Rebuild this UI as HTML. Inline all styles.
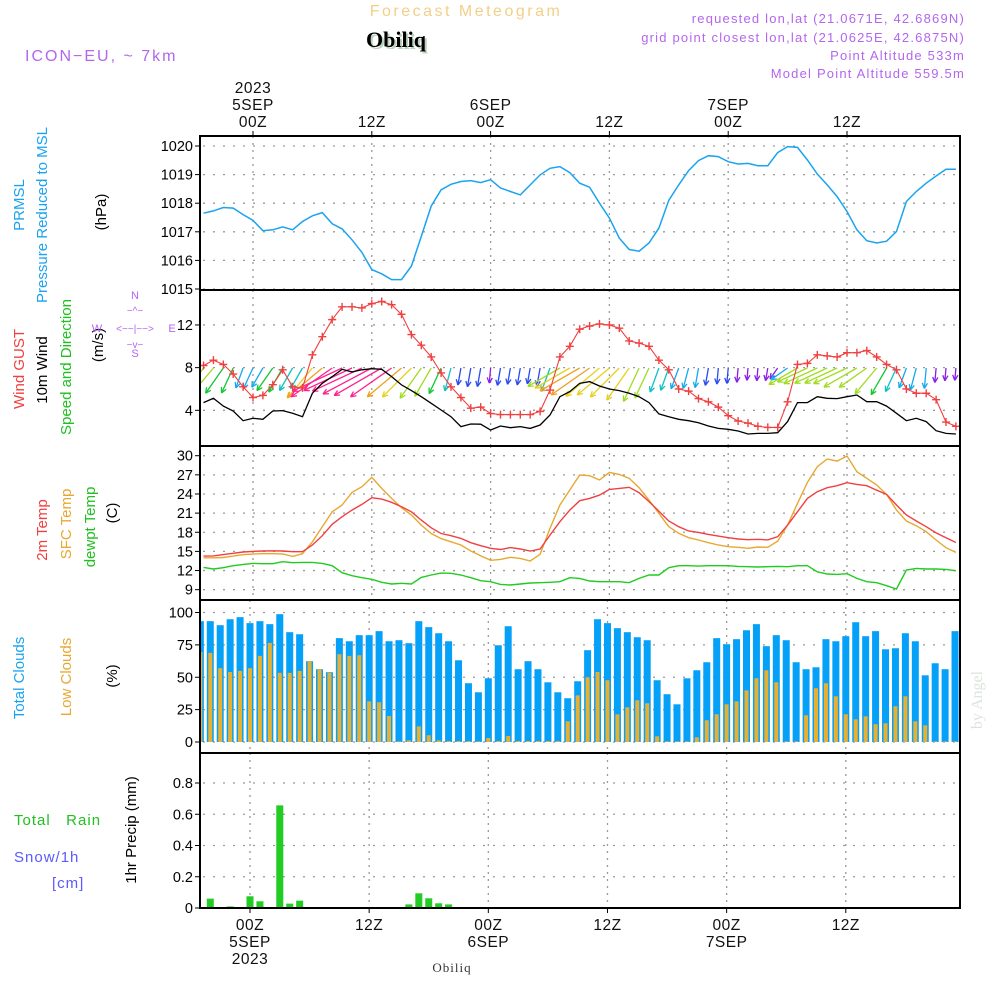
<!DOCTYPE html>
<html><head><meta charset="utf-8"><title>Meteogram Obiliq</title>
<style>
html,body{margin:0;padding:0;background:#fff;}
svg{display:block;font-family:"Liberation Sans",sans-serif;}
</style></head>
<body>
<svg id="chart" width="1000" height="1000" viewBox="0 0 1000 1000" xmlns="http://www.w3.org/2000/svg">
<rect x="0" y="0" width="1000" height="1000" fill="#fff"/>
<text x="466" y="16" font-size="16" fill="#f3cf88" text-anchor="middle" letter-spacing="2.5">Forecast Meteogram</text>
<text x="398" y="49" font-size="22" font-weight="bold" font-family="Liberation Serif, serif" fill="#bcd2bc" text-anchor="middle">Obiliq</text>
<text x="396" y="47" font-size="22" font-weight="bold" font-family="Liberation Serif, serif" fill="#000" text-anchor="middle">Obiliq</text>
<text x="25" y="61" font-size="16" fill="#b366ee" letter-spacing="2">ICON−EU, ~ 7km</text>
<g font-size="13" fill="#b366ee" text-anchor="end" letter-spacing="1.2">
<text x="965" y="23">requested lon,lat (21.0671E, 42.6869N)</text>
<text x="965" y="42">grid point closest lon,lat (21.0625E, 42.6875N)</text>
<text x="965" y="60">Point Altitude 533m</text>
<text x="965" y="78">Model Point Altitude 559.5m</text>
</g>
<g id="grid"></g>
<g id="marks"></g>
<g id="frames"></g>
<g id="labels"></g>
</svg>
<script>
// ---------- data (hourly, hour -5 .. 71 relative to 5SEP 00Z) ----------
const hours = []; for (let h = -5; h <= 71; h++) hours.push(h);
const pressure = [1017.65,1017.73,1017.85,1017.83,1017.6,1017.4,1017.04,1017.07,1017.17,1017.07,1017.36,1017.56,1017.67,1017.28,1017.1,1016.72,1016.28,1015.68,1015.53,1015.33,1015.33,1015.8,1016.84,1017.9,1018.47,1018.66,1018.76,1018.79,1018.72,1018.82,1018.53,1018.41,1018.29,1018.64,1018.99,1019.22,1019.28,1019.07,1018.7,1018.56,1018.0,1017.48,1016.78,1016.38,1016.32,1016.61,1017.13,1018.1,1018.64,1019.14,1019.49,1019.66,1019.63,1019.45,1019.37,1019.39,1019.31,1019.31,1019.77,1019.98,1019.95,1019.51,1019.02,1018.64,1018.23,1017.71,1017.07,1016.69,1016.61,1016.67,1017.01,1018.06,1018.41,1018.7,1018.95,1019.19,1019.19];
const gust = [8.2,8.7,8.3,7.4,6.2,5.2,5.4,6.4,7.8,6.2,6.1,9.2,10.9,12.5,13.7,13.7,13.6,14.0,14.2,13.9,13.0,11.1,10.1,9.0,7.5,6.2,5.2,4.2,4.3,3.7,3.6,3.6,3.6,3.6,3.9,5.9,9.0,10.0,11.6,11.9,12.1,12.0,11.7,10.5,10.3,10.0,8.7,7.8,6.0,5.8,5.1,4.8,4.3,3.5,3.0,2.8,2.5,2.4,2.4,4.8,8.3,8.4,9.2,9.1,9.0,9.4,9.4,9.6,9.0,8.3,7.8,6.0,5.6,5.6,5.0,2.9,2.5];
const windSpeed = [4.72,5.13,4.4,3.94,3.03,3.25,3.16,3.94,3.97,3.72,3.4,5.6,6.53,7.16,7.84,7.6,7.8,7.9,7.84,7.16,6.38,5.85,5.28,4.66,4.03,3.4,2.47,2.72,2.7,2.16,2.53,2.37,2.47,2.31,2.62,3.56,5.28,5.75,6.53,6.69,6.28,6.0,5.85,5.6,5.28,4.72,3.66,3.4,3.16,3.03,2.84,2.53,2.31,2.22,2.06,1.78,1.84,1.84,1.9,2.94,4.72,4.72,5.28,5.13,5.1,5.28,5.44,4.81,4.81,4.4,3.72,3.03,3.25,2.94,2.09,1.84,1.78];
const windDir = [35,40,35,25,20,25,30,35,30,30,30,40,50,55,65,65,65,62,60,55,50,45,35,30,25,15,10,10,10,5,10,10,10,10,10,20,60,60,60,55,50,50,45,35,25,25,20,20,20,15,10,10,5,5,5,5,5,10,35,55,60,65,65,65,65,65,60,55,40,30,25,20,15,5,5,5,5];
const temp2m = [14.27,14.3,14.5,14.7,14.9,15.0,15.06,15.1,15.06,14.95,14.95,16.0,17.46,19.24,20.44,21.48,22.37,23.42,23.2,22.7,22.0,21.2,19.9,18.7,17.8,17.46,17.04,16.36,15.9,15.48,15.3,15.6,15.37,15.06,15.37,17.56,19.66,21.48,22.95,23.3,23.83,24.72,24.88,25.04,24.2,22.8,21.3,19.76,18.87,18.2,17.98,17.67,17.4,17.15,16.94,16.83,16.9,16.8,17.3,19.13,21.2,23.3,24.36,24.98,25.3,25.77,25.5,25.3,24.6,23.94,22.27,20.7,19.76,18.87,17.9,17.15,16.4];
const tempSfc = [14.0,14.0,14.05,14.27,14.48,14.6,14.64,14.64,14.6,14.22,14.64,16.5,18.87,21.2,22.27,24.25,25.14,26.6,24.88,23.3,21.85,20.7,19.13,17.8,17.0,16.5,16.0,15.06,14.33,13.6,13.75,14.07,13.9,13.5,14.54,18.6,22.27,24.62,26.97,26.87,26.19,27.39,27.07,26.45,24.98,23.05,20.96,18.87,17.83,17.15,16.79,16.37,16.0,15.74,15.64,15.48,15.69,15.64,16.62,19.13,22.53,25.82,28.28,29.48,29.16,29.95,27.49,26.45,25.4,23.94,21.48,19.76,19.03,18.09,16.79,15.58,14.85];
const dewpt = [12.5,12.24,12.45,12.76,12.97,13.12,13.07,13.07,13.39,13.23,13.28,13.28,13.12,12.76,11.66,11.19,10.87,10.62,10.15,9.89,10.0,9.89,10.93,11.3,11.6,11.56,11.3,10.87,10.4,10.25,9.83,9.73,9.89,10.04,10.1,10.15,10.25,10.87,10.77,10.36,10.25,10.25,10.25,10.1,10.77,11.3,11.3,12.45,12.76,12.76,12.7,12.76,12.76,12.76,12.65,12.6,12.55,12.6,12.65,12.6,12.76,12.76,11.8,11.45,11.4,11.5,10.77,10.25,10.1,9.62,9.1,12.08,12.34,12.24,12.24,12.18,11.97];
const totalClouds = [93.3,93.3,90.2,94.8,96.4,91.8,93.3,91,98.7,84.8,83.2,62.4,56.2,53.9,80.2,77.8,82.5,82.5,85.6,77.8,78.6,76.3,93.3,88.7,84.0,77.8,63.1,45.4,38.4,49.2,74.7,89.4,56.2,62.4,56.2,46.1,38.4,33.8,46.9,70.9,94.8,91.8,87.9,84.8,80.9,78.6,47.7,36.9,29.1,49.2,55.4,61.6,80.2,75.5,79.4,86.3,91,74,82.5,78.6,61.6,56.2,57.7,79.4,77.8,81.7,92.5,81.7,85.6,71.6,72.4,84,77.8,51.5,60.8,56.2,85.6];
const lowClouds = [69.6,68.8,57,54.1,54.9,57,66.5,76.5,53.4,53.4,54.9,62.4,56.2,53.4,67.8,66.5,67,31.4,30.7,20.1,0.5,1.3,12.1,5.2,1.3,0.8,0.8,0.8,0.5,3.1,0.8,4.6,0.8,0.8,0.8,0.8,0.8,16,36,50,54.1,47.7,21.4,26.8,32.2,29.9,4.4,0.5,0.5,0.5,3.6,16.8,21.4,29.1,31.4,39.9,49.2,55.4,46.1,0.5,0.5,20.6,41.5,45.4,35.3,21.4,17.5,19.8,13.7,14.4,27.6,35.3,16,12.9,0.5,0.5,0.5];
const precip = [0,0.06,0,0.01,0.004,0.075,0.043,0,0.657,0.028,0.047,0,0,0,0,0,0,0,0,0,0,0.023,0.094,0.062,0.03,0.023,0,0,0,0,0,0,0,0,0,0,0,0,0,0,0,0,0,0,0,0,0,0,0,0,0,0,0,0,0,0,0,0,0,0,0,0,0,0,0,0,0,0,0,0,0,0,0,0,0,0,0];
const pTicks = [1015,1016,1017,1018,1019,1020];
const wTicks = [4,8,12];
const tTicks = [9,12,15,18,21,24,27,30];
const cTicks = [0,25,50,75,100];
const rTicks = [0,0.2,0.4,0.6,0.8];
const rTickLabels = ["0","0.2","0.4","0.6","0.8"];
const timeTicks = [0,12,24,36,48,60];
const topTimeLabels = [["2023","5SEP","00Z"],["12Z"],["6SEP","00Z"],["12Z"],["7SEP","00Z"],["12Z"]];
const botTimeLabels = [["00Z","5SEP","2023"],["12Z"],["00Z","6SEP"],["12Z"],["00Z","7SEP"],["12Z"]];

// ---------- axes ----------
const NS = "http://www.w3.org/2000/svg";
const L = 200, R = 960;
const xTop = h => 253 + 9.9 * h;
const xBot = h => 250 + 9.93 * h;
const yP = v => 146 + (1020 - v) * 28.6;
const yW = v => 453 - v * 10.67;
const yT = v => 455.7 + (30 - v) * 6.38;
const yC = v => 742 - v * 1.295;
const yR = v => 908 - v * 156.25;
const panels = [[136,290],[290,446],[446,600],[600,753],[753,908]];

function el(tag, attrs, parent) {
  const e = document.createElementNS(NS, tag);
  for (const k in attrs) e.setAttribute(k, attrs[k]);
  parent.appendChild(e);
  return e;
}
const grid = document.getElementById('grid');
const marks = document.getElementById('marks');
const frames = document.getElementById('frames');
const labels = document.getElementById('labels');

panels.forEach((p, i) => {
  const xf = i < 3 ? xTop : xBot;
  timeTicks.forEach(h => {
    const g = el('line', {x1: xf(h), x2: xf(h), y1: p[0], y2: p[1], stroke: '#999', 'stroke-width': 1.3, 'stroke-dasharray': '2,5'}, grid);
    
    
  });
});
function hgrid(ticks, yf, fmt, tickname) {
  ticks.forEach((t, i) => {
    const y = yf(t);
    const g = el('line', {x1: L + 3, x2: R, y1: y, y2: y, stroke: '#999', 'stroke-width': 1.3, 'stroke-dasharray': '2,8'}, grid);
    
    
    el('line', {x1: L - 5, x2: L, y1: y, y2: y, stroke: '#000', 'stroke-width': 1}, grid);
    const tx = el('text', {x: L - 7, y: y + 5, 'font-size': 14.5, 'text-anchor': 'end', fill: '#000'}, labels);
    tx.textContent = fmt ? fmt[i] : String(t);
    
    
  });
}
hgrid(pTicks, yP, null, 'pressure');
hgrid(wTicks, yW, null, 'wind');
hgrid(tTicks, yT, null, 'temp');
hgrid(cTicks, yC, null, 'cloud');
hgrid(rTicks, yR, rTickLabels, 'precip');

const defs = el('defs', {}, document.getElementById('chart'));
panels.forEach((p, i) => {
  const c = el('clipPath', {id: 'clip' + i}, defs);
  el('rect', {x: L + 1, y: p[0], width: R - L - 1, height: p[1] - p[0]}, c);
});

function line(values, xf, yf, color, name, clip, w) {
  const d = values.map((v, i) => (i ? 'L' : 'M') + xf(hours[i]).toFixed(1) + ',' + yf(v).toFixed(1)).join('');
  const p = el('path', {d: d, fill: 'none', stroke: color, 'stroke-width': w || 1.4, 'clip-path': 'url(#clip' + clip + ')'}, marks);
  
  
  return p;
}
line(pressure, xTop, yP, '#1aa3f0', 'pressure-line', 0, 1.5);

function speedColor(s) {
  if (s < 2.2) return '#8a1ee8';
  if (s < 2.8) return '#2a4af0';
  if (s < 3.3) return '#15a8f0';
  if (s < 3.8) return '#10c0c0';
  if (s < 4.5) return '#10c830';
  if (s < 5.5) return '#a0dc20';
  if (s < 6.3) return '#e6d020';
  if (s < 7.0) return '#f0a020';
  return '#ff2090';
}
const arrowGroup = el('g', {'clip-path': 'url(#clip1)'}, marks);
hours.forEach((h, i) => {
  const s = windSpeed[i], a = windDir[i] * Math.PI / 180, len = s * 7;
  const x0 = xTop(h), y0 = 368;
  const x1 = x0 - Math.sin(a) * len, y1 = y0 + Math.cos(a) * len;
  const g = el('g', {stroke: speedColor(s), 'stroke-width': 1.3, fill: 'none'}, arrowGroup);
  
  
  el('line', {x1: x0, y1: y0, x2: x1, y2: y1}, g);
  const back = Math.atan2(y0 - y1, x0 - x1);
  [0.45, -0.45].forEach(o => {
    el('line', {x1: x1, y1: y1, x2: x1 + 6 * Math.cos(back + o), y2: y1 + 6 * Math.sin(back + o)}, g);
  });
});
line(windSpeed, xTop, yW, '#000', 'wind-speed-line', 1, 1.3);
line(gust, xTop, yW, '#f04040', 'wind-gust-line', 1, 1.1);
hours.forEach((h, i) => {
  const x = xTop(h), y = yW(gust[i]);
  const g = el('path', {d: `M${x-4},${y}H${x+4}M${x},${y-4}V${y+4}`, stroke: '#f04040', 'stroke-width': 1.4, 'clip-path': 'url(#clip1)'}, marks);
  
  
});
line(tempSfc, xTop, yT, '#e8a830', 'sfc-temp-line', 2, 1.4);
line(temp2m, xTop, yT, '#f04040', '2m-temp-line', 2, 1.4);
line(dewpt, xTop, yT, '#20cc20', 'dewpoint-line', 2, 1.4);

hours.forEach((h, i) => {
  const x = xBot(h);
  const b = el('rect', {x: x - 3.5, y: yC(totalClouds[i]), width: 7, height: yC(0) - yC(totalClouds[i]), fill: '#05a0f8', 'clip-path': 'url(#clip3)'}, marks);
  
  
  const o = el('rect', {x: x - 2, y: yC(lowClouds[i]), width: 4, height: yC(0) - yC(lowClouds[i]), fill: '#e8b030', 'clip-path': 'url(#clip3)'}, marks);
  
  
});
hours.forEach((h, i) => {
  if (precip[i] <= 0) return;
  const x = xBot(h);
  const b = el('rect', {x: x - 3.5, y: yR(precip[i]), width: 7, height: yR(0) - yR(precip[i]), fill: '#22cc22', 'clip-path': 'url(#clip4)'}, marks);
  
  
});
el('line', {x1: L, x2: R, y1: 907.5, y2: 907.5, stroke: '#000', 'stroke-width': 1, 'stroke-dasharray': '4,2'}, marks);

panels.forEach((p, i) => {
  const f = el('rect', {x: L, y: p[0], width: R - L, height: p[1] - p[0], fill: 'none', stroke: '#000', 'stroke-width': 2}, frames);
  
  
});

timeTicks.forEach((h, i) => {
  const x = xTop(h);
  el('line', {x1: x, x2: x, y1: 131, y2: 136, stroke: '#000'}, frames);
  const lines = topTimeLabels[i];
  lines.forEach((s, j) => {
    const t = el('text', {x: x, y: 127 - (lines.length - 1 - j) * 17, 'font-size': 15.5, 'text-anchor': 'middle', fill: '#111', 'letter-spacing': 0.5}, labels);
    t.textContent = s;
    
    
  });
  const xb = xBot(h);
  el('line', {x1: xb, x2: xb, y1: 908, y2: 913, stroke: '#000'}, frames);
  botTimeLabels[i].forEach((s, j) => {
    const t = el('text', {x: xb, y: 930 + j * 17, 'font-size': 15.5, 'text-anchor': 'middle', fill: '#111', 'letter-spacing': 0.5}, labels);
    t.textContent = s;
    
    
  });
});
</script>
<div style="position:absolute;left:0;top:0;width:1000px;height:1000px;pointer-events:none;">
<svg width="1000" height="1000" style="font-family:'Liberation Sans',sans-serif;">
<text x="452" y="972" font-size="13" font-family="Liberation Serif, serif" fill="#333" text-anchor="middle" letter-spacing="1">Obiliq</text>
<g font-size="15">
<text transform="translate(24,205) rotate(-90)" text-anchor="middle" fill="#1aa3f0">PRMSL</text>
<text transform="translate(47,215) rotate(-90)" text-anchor="middle" fill="#1aa3f0">Pressure Reduced to MSL</text>
<text transform="translate(106,212) rotate(-90)" text-anchor="middle" fill="#000">(hPa)</text>
</g>
<g font-size="15">
<text transform="translate(24,369) rotate(-90)" text-anchor="middle" fill="#f04040">Wind GUST</text>
<text transform="translate(47,370) rotate(-90)" text-anchor="middle" fill="#000">10m Wind</text>
<text transform="translate(71,367) rotate(-90)" text-anchor="middle" fill="#20c020">Speed and Direction</text>
<text transform="translate(103,345) rotate(-90)" text-anchor="middle" fill="#000">(m/s)</text>
</g>
<g font-size="11" fill="#b366ee" text-anchor="middle">
<text x="97" y="332">W</text><text x="135" y="299">N</text><text x="135" y="357">S</text><text x="172" y="332">E</text>
<text x="135" y="332" font-size="10">&lt;−−|−−&gt;</text>
<text x="135" y="314" font-size="10">−^−</text>
<text x="135" y="348" font-size="10">−v−</text>
</g>
<g font-size="15">
<text transform="translate(47,530) rotate(-90)" text-anchor="middle" fill="#f04040">2m Temp</text>
<text transform="translate(71,524) rotate(-90)" text-anchor="middle" fill="#e8a830">SFC Temp</text>
<text transform="translate(95,527) rotate(-90)" text-anchor="middle" fill="#20c020">dewpt Temp</text>
<text transform="translate(117,513) rotate(-90)" text-anchor="middle" fill="#000">(C)</text>
</g>
<g font-size="15">
<text transform="translate(24,678) rotate(-90)" text-anchor="middle" fill="#1aa3f0">Total Clouds</text>
<text transform="translate(71,677) rotate(-90)" text-anchor="middle" fill="#e8a830">Low Clouds</text>
<text transform="translate(117,676) rotate(-90)" text-anchor="middle" fill="#000">(%)</text>
</g>
<g font-size="15" letter-spacing="1">
<text x="14" y="825" fill="#20c020">Total&#160;&#160;&#160;Rain</text>
<text x="14" y="862" fill="#5a5aff">Snow/1h</text>
<text x="52" y="888" fill="#5a5aff">[cm]</text>
<text transform="translate(136,830) rotate(-90)" text-anchor="middle" fill="#000" letter-spacing="0">1hr Precip (mm)</text>
</g>
<text transform="translate(982,700) rotate(-90)" text-anchor="middle" font-size="16" font-family="Liberation Serif, serif" fill="#dde4dd">by Angel</text>
</svg></div>
</body></html>
